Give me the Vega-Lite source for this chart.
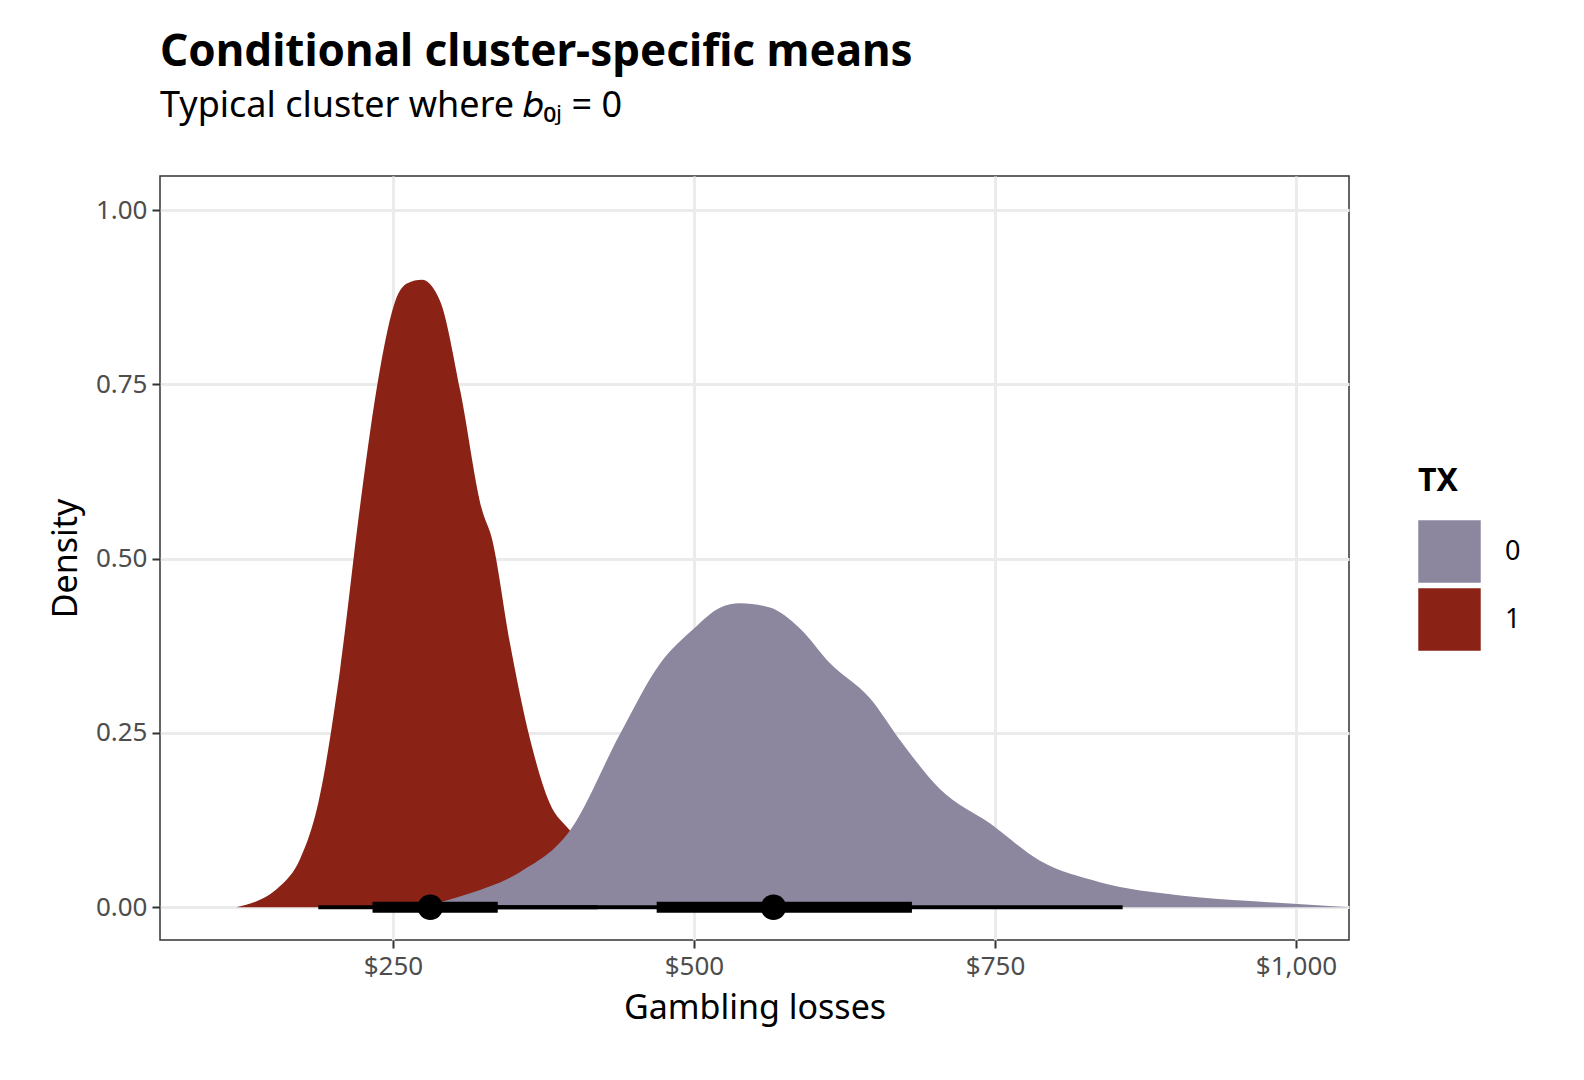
{
"$schema":"https://vega.github.io/schema/vega-lite/v6.json",
"width":1189,"height":764,"autosize":"none",
"padding":{"left":160,"top":176,"right":235,"bottom":140},
"background":"white",
"config":{"font":"Noto Sans","view":{"stroke":"#333333","strokeWidth":1.5},
"axis":{"grid":true,"gridColor":"#ebebeb","gridWidth":3,"domain":false,"tickColor":"#333333","tickSize":8,"tickWidth":2,"labelColor":"#4d4d4d","labelFontSize":26,"titleFontSize":34,"titleFontWeight":"normal","titleColor":"black","labelPadding":5,"titlePadding":12}},
"title":{"text":"Conditional cluster-specific means","subtitle":"Typical cluster where 𝑏₀ⱼ = 0","anchor":"start","frame":"group","fontSize":44,"fontWeight":"bold","subtitleFontSize":36,"subtitleColor":"black","subtitlePadding":14,"offset":52},
"datasets":{
"dens":[
{"x":120,"y":0,"TX":"1"},{"x":156,"y":0.03,"TX":"1"},{"x":173,"y":0.07,"TX":"1"},{"x":188,"y":0.15,"TX":"1"},{"x":206,"y":0.34,"TX":"1"},{"x":223,"y":0.58,"TX":"1"},{"x":239,"y":0.77,"TX":"1"},{"x":252,"y":0.87,"TX":"1"},{"x":262,"y":0.895,"TX":"1"},{"x":274,"y":0.9,"TX":"1"},{"x":289,"y":0.87,"TX":"1"},{"x":306,"y":0.74,"TX":"1"},{"x":324,"y":0.57,"TX":"1"},{"x":332,"y":0.53,"TX":"1"},{"x":347,"y":0.38,"TX":"1"},{"x":364,"y":0.24,"TX":"1"},{"x":380,"y":0.15,"TX":"1"},{"x":397,"y":0.11,"TX":"1"},{"x":420,"y":0.06,"TX":"1"},{"x":450,"y":0.02,"TX":"1"},{"x":480,"y":0.005,"TX":"1"},{"x":510,"y":0,"TX":"1"},
{"x":272,"y":0,"TX":"0"},{"x":314,"y":0.02,"TX":"0"},{"x":355,"y":0.05,"TX":"0"},{"x":397,"y":0.11,"TX":"0"},{"x":439,"y":0.25,"TX":"0"},{"x":472,"y":0.35,"TX":"0"},{"x":500,"y":0.40,"TX":"0"},{"x":522,"y":0.43,"TX":"0"},{"x":538,"y":0.436,"TX":"0"},{"x":563,"y":0.43,"TX":"0"},{"x":588,"y":0.40,"TX":"0"},{"x":613,"y":0.35,"TX":"0"},{"x":646,"y":0.30,"TX":"0"},{"x":671,"y":0.24,"TX":"0"},{"x":704,"y":0.17,"TX":"0"},{"x":746,"y":0.12,"TX":"0"},{"x":787,"y":0.067,"TX":"0"},{"x":837,"y":0.036,"TX":"0"},{"x":904,"y":0.017,"TX":"0"},{"x":962,"y":0.009,"TX":"0"},{"x":1044,"y":0,"TX":"0"}],
"iv":[
{"TX":"1","mean":281,"lo66":233,"hi66":337,"lo95":188,"hi95":420},
{"TX":"0","mean":566,"lo66":469,"hi66":681,"lo95":330,"hi95":856}]
},
"layer":[
{"data":{"name":"dens"},"transform":[{"filter":"datum.TX=='1'"}],"mark":{"type":"area","interpolate":"monotone","clip":true},
"encoding":{"x":{"field":"x","type":"quantitative","scale":{"domain":[56.5,1044],"nice":false,"zero":false},"axis":{"values":[250,500,750,1000],"format":"$,d","title":"Gambling losses","grid":true}},
"y":{"field":"y","type":"quantitative","scale":{"domain":[-0.047,1.049],"nice":false},"axis":{"values":[0,0.25,0.5,0.75,1],"format":".2f","title":"Density"}},
"color":{"field":"TX","type":"nominal","scale":{"domain":["0","1"],"range":["#8C869F","#8A2316"]},"legend":{"title":"TX","orient":"none","legendX":1258,"legendY":290,"titleFontSize":32,"titleFontWeight":"bold","labelFontSize":27,"symbolType":"square","symbolSize":3900,"symbolStrokeWidth":0,"symbolOpacity":1,"rowPadding":5,"labelOffset":24,"titlePadding":22,"titleColor":"black","labelColor":"black"}}}},
{"data":{"name":"dens"},"transform":[{"filter":"datum.TX=='0'"}],"mark":{"type":"area","interpolate":"monotone","clip":true},
"encoding":{"x":{"field":"x","type":"quantitative"},"y":{"field":"y","type":"quantitative"},"color":{"field":"TX","type":"nominal"}}},
{"data":{"name":"iv"},"mark":{"type":"rule","color":"black","strokeWidth":4},"encoding":{"x":{"field":"lo95","type":"quantitative"},"x2":{"field":"hi95"},"y":{"datum":0}}},
{"data":{"name":"iv"},"mark":{"type":"rule","color":"black","strokeWidth":11},"encoding":{"x":{"field":"lo66","type":"quantitative"},"x2":{"field":"hi66"},"y":{"datum":0}}},
{"data":{"name":"iv"},"mark":{"type":"point","filled":true,"color":"black","opacity":1,"size":650},"encoding":{"x":{"field":"mean","type":"quantitative"},"y":{"datum":0}}}
]
}
